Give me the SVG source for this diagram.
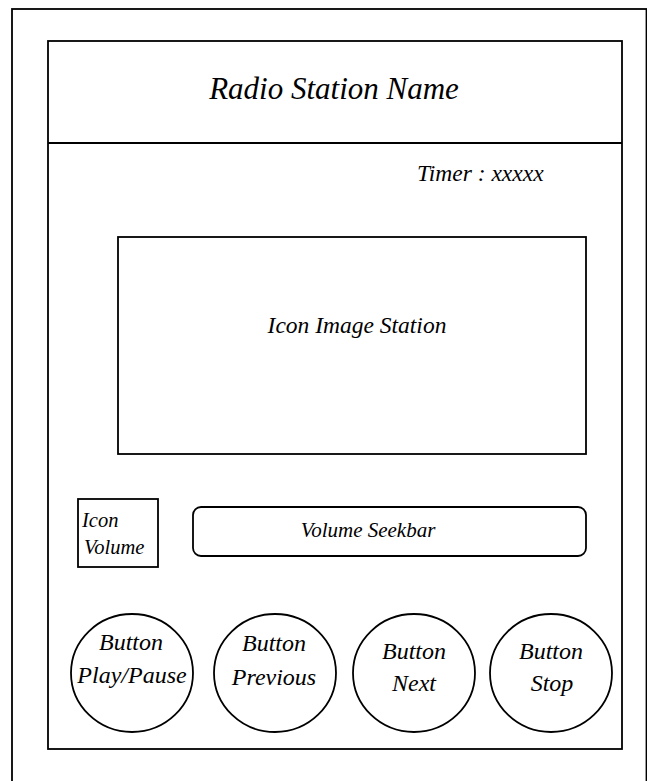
<svg xmlns="http://www.w3.org/2000/svg" width="647" height="781" viewBox="0 0 647 781">
<style>
.ln{fill:#fff;stroke:#000;stroke-width:1.8}
.t{font-family:"Liberation Serif","Times New Roman",serif;font-style:italic;fill:#000}
.c{text-anchor:middle}
.b{font-size:24px}
</style>
<rect x="0" y="0" width="647" height="781" fill="#fff"/>
<g id="outer-frame"><rect class="ln" x="12" y="9" width="634.5" height="800"/></g>
<g id="screen"><rect class="ln" x="48" y="41" width="574" height="708"/></g>
<g id="header">
<line x1="48" y1="143" x2="622" y2="143" stroke="#000" stroke-width="1.8"/>
<text class="t c" x="334" y="99" font-size="31">Radio Station Name</text>
</g>
<g id="timer"><text class="t" x="417" y="181" font-size="23.5">Timer : xxxxx</text></g>
<g id="icon-image"><rect class="ln" x="118" y="237" width="468" height="217"/>
<text class="t c" x="357" y="333" font-size="23.5">Icon Image Station</text></g>
<g id="icon-volume"><rect class="ln" x="78" y="499" width="80" height="68"/>
<text class="t" x="82" y="527" font-size="20.5">Icon</text>
<text class="t" x="84" y="554" font-size="20.5">Volume</text></g>
<g id="volume-seekbar"><rect class="ln" x="193" y="507" width="393" height="49" rx="8"/>
<text class="t c" x="368" y="537" font-size="21">Volume Seekbar</text></g>
<g id="btn-play"><ellipse class="ln" cx="132" cy="673" rx="61" ry="59"/>
<text class="t c b" x="131" y="650">Button</text>
<text class="t c b" x="132" y="683">Play/Pause</text></g>
<g id="btn-prev"><ellipse class="ln" cx="275" cy="673" rx="61" ry="59"/>
<text class="t c b" x="274" y="651">Button</text>
<text class="t c b" x="274" y="685">Previous</text></g>
<g id="btn-next"><ellipse class="ln" cx="414" cy="673" rx="61" ry="59"/>
<text class="t c b" x="414" y="659">Button</text>
<text class="t c b" x="414" y="691">Next</text></g>
<g id="btn-stop"><ellipse class="ln" cx="551" cy="673" rx="61" ry="59"/>
<text class="t c b" x="551" y="659">Button</text>
<text class="t c b" x="552" y="691">Stop</text></g>
<g id="connectors"></g>
</svg>
